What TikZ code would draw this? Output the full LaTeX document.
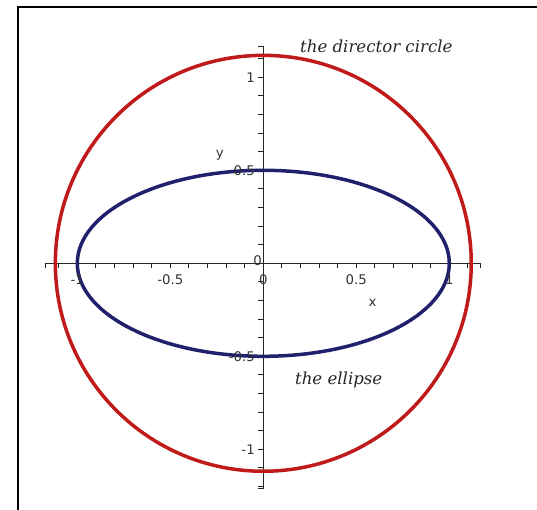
\documentclass[tikz,border=0pt]{standalone}
\usepackage{fontspec}
\setmainfont{DejaVu Serif}
\newfontfamily\ticksans{DejaVu Sans}
\definecolor{dcred}{RGB}{192,26,26}
\definecolor{elblue}{RGB}{32,32,108}
\begin{document}
\begin{tikzpicture}[x=186pt,y=186pt,
  curve/.style={line width=3.5pt},
  axisline/.style={line width=1.1pt, black!85},
  ticklab/.style={font=\ticksans\fontsize{13.3}{13.3}\selectfont, inner sep=0pt, text=black!80},
  caption/.style={font=\itshape\fontsize{16.6}{16.6}\selectfont, inner sep=0pt, text=black!85}]
\useasboundingbox (-1.41559,-1.32097) rectangle (1.47151,1.41559);
% frame
\draw[line width=2.2pt] (-1.3204,-1.33) -- (-1.3204,1.3796) -- (1.48,1.3796);
% axes
\coordinate (xl) at (-1.172,0);
\coordinate (xr) at (1.170,0);
\coordinate (yb) at (0,-1.213);
\coordinate (yt) at (0,1.168);
\draw[axisline] (xl) -- (xr);
\draw[axisline] (yb) -- (yt);
\foreach \t in {-11,...,11} \draw[axisline] (\t/10,0) -- (\t/10,-0.024);
\draw[axisline] (xl) -- ++(0,-0.024);
\draw[axisline] (xr) -- ++(0,-0.024);
\foreach \t in {-12,...,11} \draw[axisline] (0,\t/10) -- (-0.028,\t/10);
\draw[axisline] (yt) -- ++(-0.028,0);
\draw[axisline] (yb) -- ++(-0.028,0);
% curves
\draw[curve, dcred] (0,0) circle [radius=1.1180];
\draw[curve, elblue] (0,0) ellipse [x radius=1, y radius=0.5];
% tick labels
\node[ticklab, anchor=north] (xm1) at (-1,-0.06) {-1};
\node[ticklab, anchor=north] (xm05) at (-0.5,-0.06) {-0.5};
\node[ticklab, anchor=north] (x0) at (0,-0.06) {0};
\node[ticklab, anchor=north] (x05) at (0.5,-0.06) {0.5};
\node[ticklab, anchor=north] (x1) at (1,-0.06) {1};
\node[ticklab, anchor=east] (y1) at (-0.045,1) {1};
\node[ticklab, anchor=east] (y05) at (-0.045,0.5) {0.5};
\node[ticklab, anchor=east] (y0) at (-0.007,0.015) {0};
\node[ticklab, anchor=east] (ym05) at (-0.045,-0.5) {-0.5};
\node[ticklab, anchor=east] (ym1) at (-0.045,-1) {-1};
\node[ticklab] (xlab) at (0.588,-0.215) {x};
\node[ticklab] (ylab) at (-0.234,0.58) {y};
% captions
\node[caption, anchor=base west] (dc) at (0.197,1.132) {the director circle};
\node[caption, anchor=base west] (el) at (0.170,-0.654) {the ellipse};
\end{tikzpicture}
\end{document}
